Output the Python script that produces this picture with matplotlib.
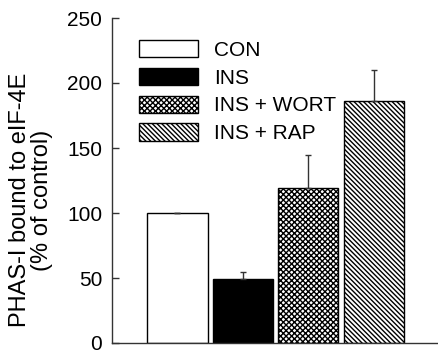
import matplotlib
matplotlib.use("Agg")
import matplotlib.pyplot as plt
from matplotlib.patches import Patch

categories = ["CON", "INS", "INS + WORT", "INS + RAP"]
values = [100, 49, 119, 186]
errors = [0, 6, 26, 24]
hatches = ["", "", "xxxxxx", "\\\\\\\\\\\\\\"]
faces = ["white", "black", "white", "white"]
yticks = [0, 50, 100, 150, 200, 250]

plt.rcParams['font.family'] = ['Liberation Sans', 'DejaVu Sans']
plt.rcParams['hatch.linewidth'] = 1.0

fig = plt.figure(figsize=(4.38, 3.55), dpi=100)
ax = fig.add_axes([112/438, 1-343/355, 1-112/438, (343-18)/355])

x = list(range(len(categories)))
bars = ax.bar(x, values, width=0.92, color=faces, edgecolor="black",
              linewidth=1.0)
for b, h in zip(bars, hatches):
    if h:
        b.set_hatch(h)
ax.errorbar(x, values, yerr=[[0]*len(errors), errors], fmt="none",
            ecolor="#333333", elinewidth=1.0, capsize=2.5, capthick=1.0)

ax.set_xlim(-1.0, 3.98)
ax.set_ylim(0, 250)
ax.set_yticks(yticks)
ax.set_xticks([])
ax.spines['top'].set_visible(False)
ax.spines['right'].set_visible(False)
for s in ['left', 'bottom']:
    ax.spines[s].set_color('#333333')
    ax.spines[s].set_linewidth(1.0)
ax.tick_params(axis='y', direction='in', length=5, width=1, color='#333333',
               labelsize=15, pad=7)

handles = [Patch(facecolor=f, edgecolor='black', hatch=h, linewidth=1.0)
           for f, h in zip(faces, hatches)]
ax.legend(handles, categories, loc='upper left',
          bbox_to_anchor=(139/438, 1-40/355), bbox_transform=fig.transFigure,
          frameon=False, fontsize=15, handlelength=2.85, handleheight=0.9,
          handletextpad=0.75, labelspacing=0.38, borderpad=0, borderaxespad=0)

fig.text(31/438, 1-200/355, "PHAS-I bound to eIF-4E\n(% of control)", rotation=90,
         ha='center', va='center', fontsize=17, multialignment='center', linespacing=1.05)

fig.savefig("out.png", dpi=100)
